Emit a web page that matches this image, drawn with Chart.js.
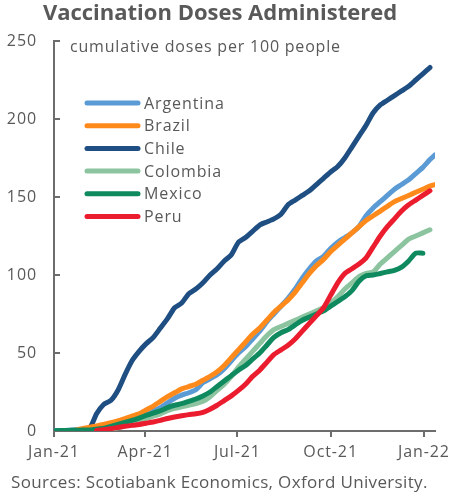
<!DOCTYPE html>
<html>
<head>
<meta charset="utf-8">
<script src="https://cdn.jsdelivr.net/npm/chart.js@4.4.1/dist/chart.umd.min.js"></script>
<style>
  html, body { margin: 0; padding: 0; background: #ffffff; }
  #wrap { width: 455px; height: 499px; }
</style>
</head>
<body>
<div id="wrap"><canvas id="c" width="455" height="499"></canvas></div>
<script>
// Days since 1 Jan 2021 for each reading (weekly)
const days = [0, 7, 14, 21, 28, 35, 42, 49, 56, 63, 70, 77, 84, 91, 98, 105, 112, 119, 126, 133,
  140, 147, 154, 161, 168, 175, 182, 189, 196, 203, 210, 217, 224, 231, 238, 245, 252, 259, 266, 273,
  280, 287, 294, 301, 308, 315, 322, 329, 336, 343, 350, 357, 364, 371, 376];

// Cumulative doses per 100 people
const argentina = [0.1, 0.3, 0.5, 0.8, 1.2, 1.8, 2.5, 3.2, 4, 5, 6, 7.5, 9, 11.5, 13, 15, 18, 21, 23, 24.5,
  26.5, 31, 33.5, 36, 40, 45, 50, 54, 59, 64, 70, 75, 80, 85, 91, 98, 104, 109, 112, 117,
  121, 124, 127, 131, 138, 143, 147, 151, 155, 158, 161, 165, 169, 174, 177];
const brazil = [null, null, 0, 0.5, 1.5, 2.5, 3.3, 4.2, 5.3, 6.5, 8, 9.5, 11, 13.5, 16, 19, 22, 24.5, 27, 28.5,
  30, 32.5, 35, 38, 42, 47, 52, 57, 62, 66, 71, 76, 80, 84, 89, 95, 101, 106, 110, 115,
  119, 123, 127, 131, 135, 138, 141, 144, 147, 149, 151, 153, 155, 157, 158];
const chile = [0.1, 0.2, 0.3, 0.4, 0.5, 1.5, 11, 17, 19.5, 26, 36, 45, 51, 56, 60, 66, 72, 79, 82, 88,
  91, 95, 100, 104, 109, 113, 121, 124, 128, 132, 134, 136, 139, 145, 148, 151, 154, 158, 162, 166,
  169.5, 175, 182, 189, 196, 204, 209, 212, 215, 218, 221, 225, 229, 233, null];
const colombia = [null, null, null, null, null, null, null, 0.3, 1, 2, 3.5, 5, 6.5, 8, 9.5, 11, 13, 14.5, 15.5, 16.5,
  17.5, 19, 22, 26, 30, 35, 41, 46, 51, 56, 61, 65, 67, 69, 71, 73, 75, 77, 79, 82,
  86, 91, 95, 99, 101, 102, 107, 111, 115, 119, 123, 125, 127, 129, null];
const mexico = [0.05, 0.3, 0.4, 0.5, 0.6, 0.7, 1.2, 1.8, 3, 4.2, 5.5, 6.8, 8.3, 10, 11.5, 13, 15, 16.5, 17.5, 19,
  20.5, 22.5, 25, 28.5, 32, 35.5, 39, 42, 46, 50, 55, 60, 63, 65, 68, 71, 73, 75, 77, 80,
  83, 86, 90, 96, 99.5, 100, 101, 102, 103, 105, 109, 114, 114, null, null];
const peru = [null, null, null, null, null, null, 0.3, 0.8, 1.5, 2.2, 3, 3.6, 4.2, 5, 5.8, 6.8, 8, 9, 9.8, 10.5,
  11, 12, 14, 16.5, 19.5, 22.5, 26, 30, 35, 39, 44, 49, 52, 55, 59, 64, 69, 74, 79, 87,
  95, 101, 104, 107, 111, 118, 125, 131, 136, 141, 145, 148, 151, 154, null];

// X-axis ticks: first of each quarter, in days since 1 Jan 2021
const tickDays = [0, 90, 181, 273, 365];
const tickLabels = ['Jan-21', 'Apr-21', 'Jul-21', 'Oct-21', 'Jan-22'];
const yTicks = [0, 50, 100, 150, 200, 250];

const seriesNames = ['Argentina', 'Brazil', 'Chile', 'Colombia', 'Mexico', 'Peru'];
const seriesValues = [argentina, brazil, chile, colombia, mexico, peru];
const seriesColors = ['#5b9bd5', '#ff8a1c', '#1f4e82', '#8cc4a0', '#0f8a5f', '#ec1c2f'];
// drawing order: lower is painted on top
const seriesOrder = [4, 3, 5, 2, 1, 0];

const FONT = '"Open Sans", "Noto Sans", sans-serif';
const TEXT = '#595959';
const AXIS = '#6d6d6d';

const titleText = 'Vaccination Doses Administered';
const unitText = 'cumulative doses per 100 people';
const sourceText = 'Sources: Scotiabank Economics, Oxford University.';

function toPoints(values) {
  const pts = [];
  values.forEach((v, i) => { if (v !== null) pts.push({ x: days[i], y: v }); });
  return pts;
}

const datasets = seriesNames.map((name, i) => ({
  label: name,
  data: toPoints(seriesValues[i]),
  borderColor: seriesColors[i],
  backgroundColor: seriesColors[i],
  borderWidth: 5,
  pointRadius: 0,
  tension: 0.2,
  borderCapStyle: 'round',
  borderJoinStyle: 'round',
  fill: false,
  order: seriesOrder[i]
}));

// Slightly open letter spacing for the axis labels
const spacing = {
  id: 'spacing',
  beforeDraw(chart) { chart.ctx.letterSpacing = '0.9px'; },
  afterDraw(chart) { chart.ctx.letterSpacing = '0px'; }
};

// Text, inward y ticks and the legend list drawn on the canvas
const decorations = {
  id: 'decorations',
  afterDraw(chart) {
    const ctx = chart.ctx;
    const area = chart.chartArea;
    const y = chart.scales.y;
    ctx.save();

    // inward tick marks on the value axis
    ctx.strokeStyle = AXIS;
    ctx.lineWidth = 2;
    yTicks.forEach(v => {
      if (v === 0) return;
      const py = Math.round(y.getPixelForValue(v));
      ctx.beginPath();
      ctx.moveTo(area.left, py);
      ctx.lineTo(area.left + 6, py);
      ctx.stroke();
    });

    // title
    ctx.fillStyle = TEXT;
    ctx.letterSpacing = '0px';
    ctx.font = 'bold 22px ' + FONT;
    ctx.textAlign = 'center';
    ctx.textBaseline = 'middle';
    ctx.fillText(titleText, 220, 14);

    // unit note
    ctx.letterSpacing = '0.8px';
    ctx.font = '16px ' + FONT;
    ctx.textAlign = 'left';
    ctx.fillText(unitText, 70, 47);

    // sources
    ctx.letterSpacing = '0.35px';
    ctx.font = '17px ' + FONT;
    ctx.fillText(sourceText, 11, 483);

    // legend
    seriesNames.forEach((name, i) => {
      const ly = 103 + i * 22.7;
      ctx.strokeStyle = seriesColors[i];
      ctx.lineWidth = 5;
      ctx.lineCap = 'round';
      ctx.beginPath();
      ctx.moveTo(87, ly);
      ctx.lineTo(138, ly);
      ctx.stroke();
      ctx.fillStyle = TEXT;
      ctx.letterSpacing = '0.9px';
      ctx.font = '16px ' + FONT;
      ctx.fillText(name, 144, ly + 1);
    });

    ctx.restore();
  }
};

new Chart(document.getElementById('c'), {
  type: 'line',
  data: { datasets },
  plugins: [spacing, decorations],
  options: {
    responsive: false,
    devicePixelRatio: 1,
    animation: false,
    layout: { padding: { top: 41, right: 20, left: 0, bottom: 0 } },
    plugins: { legend: { display: false }, tooltip: { enabled: false }, title: { display: false } },
    scales: {
      x: {
        type: 'linear',
        min: 0,
        max: 376,
        afterBuildTicks: scale => { scale.ticks = tickDays.map(v => ({ value: v })); },
        afterFit: scale => { scale.height = 68; },
        grid: { drawOnChartArea: false, drawTicks: true, tickLength: 6, color: AXIS, lineWidth: 2 },
        border: { display: true, color: AXIS, width: 2 },
        ticks: {
          autoSkip: false, maxRotation: 0, padding: 6, color: TEXT,
          font: { family: FONT, size: 16 },
          callback: (v) => { const k = tickDays.indexOf(v); return k >= 0 ? tickLabels[k] : ''; }
        }
      },
      y: {
        min: 0,
        max: 250,
        afterBuildTicks: scale => { scale.ticks = yTicks.map(v => ({ value: v })); },
        afterFit: scale => { scale.width = 54; },
        grid: { drawOnChartArea: false, drawTicks: false },
        border: { display: true, color: AXIS, width: 2 },
        ticks: { padding: 17, color: TEXT, font: { family: FONT, size: 16 } }
      }
    }
  }
});
</script>
</body>
</html>
